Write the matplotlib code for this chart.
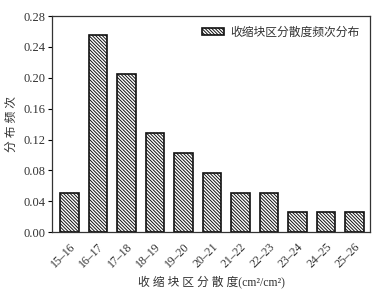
import matplotlib
matplotlib.use('Agg')
import matplotlib.pyplot as plt

plt.rcParams['font.family'] = ['Liberation Serif', 'Noto Sans CJK SC']
plt.rcParams['hatch.linewidth'] = 0.7

categories = ['15–16', '16–17', '17–18', '18–19', '19–20', '20–21',
              '21–22', '22–23', '23–24', '24–25', '25–26']
freq = [0.051, 0.256, 0.205, 0.128, 0.103, 0.077, 0.051, 0.051, 0.026, 0.026, 0.026]
yticks = [0.00, 0.04, 0.08, 0.12, 0.16, 0.20, 0.24, 0.28]

txt = '#333333'
fig = plt.figure(figsize=(3.78, 2.93), dpi=100)
ax = fig.add_axes([0.138, 0.208, 0.841, 0.737])

x = list(range(len(categories)))
ax.bar(x, freq, width=0.65, color='white', edgecolor='#111111', linewidth=1.2,
       hatch='\\' * 10, label='收缩块区分散度频次分布')

ax.set_xlim(-0.6, len(categories) - 0.45)
ax.set_ylim(0, 0.28)
ax.set_yticks(yticks)
ax.set_yticklabels(['%.2f' % v for v in yticks], fontsize=9, color=txt)
ax.set_xticks(x)
ax.set_xticklabels(categories, rotation=45, ha='right', va='top',
                   rotation_mode='anchor', fontsize=8.5, color=txt)
ax.tick_params(axis='x', length=0, pad=6)
ax.tick_params(axis='y', length=3, width=0.8, direction='out', pad=2)
for s in ax.spines.values():
    s.set_linewidth(0.9)
    s.set_color('#333333')

ax.set_ylabel('分 布 频 次', fontsize=8.5, color=txt, labelpad=4)
ax.set_xlabel('收 缩 块 区 分 散 度(cm²/cm²)', fontsize=8.5, color=txt, labelpad=4)

ax.legend(loc='upper right', frameon=False, fontsize=8.5, handlelength=1.9,
          handleheight=0.6, borderaxespad=0.5, handletextpad=0.5, labelcolor=txt)

fig.savefig('out.png', dpi=100)
